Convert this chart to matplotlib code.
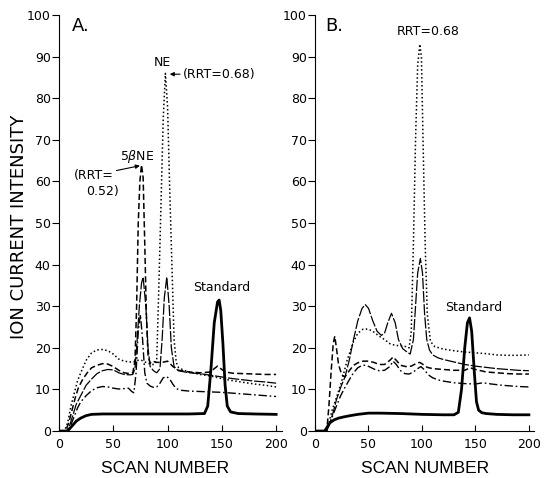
import numpy as np
import matplotlib
matplotlib.use("Agg")
import matplotlib.pyplot as plt

# ── Panel A traces (scan number, ion current) ────────────────────────────────
std_a_x = [0, 8, 10, 13, 16, 20, 25, 30, 40, 60, 80, 100, 120, 134, 137, 140,
           143, 146, 147.5, 149, 151, 153, 155, 158, 165, 180, 200]
std_a_y = [0, 0, 0.6, 1.5, 2.4, 3.1, 3.7, 4.0, 4.1, 4.1, 4.1, 4.1, 4.1, 4.2, 6,
           15, 26, 31, 31.5, 29, 21, 11, 6, 4.6, 4.2, 4.1, 4.0]

dot_a_x = [0, 5, 8, 11, 14, 17, 20, 25, 30, 35, 40, 45, 50, 55, 60, 65, 69, 72,
           76, 80, 85, 88, 90, 92, 94, 96, 98, 100, 102, 104, 106, 108, 110,
           115, 120, 130, 140, 150, 160, 170, 180, 190, 200]
dot_a_y = [0, 0, 2, 6, 9, 12, 14, 17, 18.8, 19.5, 19.6, 19.3, 18.5, 17.3, 16.8,
           16.6, 16.7, 17, 17, 16.5, 16, 16, 17, 35, 55, 75, 86, 78, 58, 40, 22,
           16.5, 15.3, 14.6, 14.2, 13.6, 13.2, 12.6, 12.1, 11.7, 11.3, 11, 10.6]

dash_a_x = [0, 6, 9, 12, 15, 18, 22, 26, 30, 35, 40, 45, 50, 55, 60, 65, 68, 70,
            71.5, 73, 74.5, 76, 77.5, 79, 80.5, 82, 84, 86, 90, 95, 100, 105,
            110, 120, 130, 140, 143, 146, 149, 153, 160, 170, 180, 190, 200]
dash_a_y = [0, 0, 2, 5, 8, 10.5, 12.5, 14, 15.2, 15.8, 16.2, 16.1, 15.5, 14.6,
            14, 13.8, 14, 17, 30, 50, 60, 64, 61, 45, 28, 18, 16.3, 16.8, 16.5,
            16.5, 16.8, 15.5, 14.6, 14.2, 14, 14.2, 15, 15.6, 15, 14.2, 13.9,
            13.8, 13.7, 13.6, 13.6]

long_a_x = [0, 7, 10, 13, 16, 20, 25, 30, 35, 40, 45, 50, 55, 60, 65, 68, 70,
            72, 74, 76, 77.5, 80, 82, 84, 87, 90, 93, 95, 97, 99.3, 101.5, 103.5,
            106, 110, 120, 130, 140, 150, 160, 170, 180, 190, 200]
long_a_y = [0, 0, 1.5, 4, 6.5, 8.5, 11, 12.5, 13.8, 14.5, 14.8, 14.7, 14, 13.6,
            13.5, 13.6, 15, 22, 30, 35.5, 37, 30, 20, 15.5, 14.5, 14, 15, 22, 32,
            37, 30, 20, 15.5, 14.5, 14, 13.8, 13.4, 13, 12.6, 12.3, 12, 11.8, 11.5]

dd_a_x = [0, 8, 11, 14, 17, 20, 25, 30, 35, 40, 45, 50, 55, 60, 64, 67, 69, 71,
          73, 75, 77, 79, 81, 84, 87, 90, 93, 96, 99, 102, 105, 108, 112, 120,
          130, 140, 150, 160, 170, 180, 190, 200]
dd_a_y = [0, 0, 1.5, 3.5, 5.5, 7, 8.5, 9.7, 10.4, 10.7, 10.6, 10.3, 10.1, 10.2,
          10.3, 9.5, 9.2, 14, 24, 28, 22, 14, 11.5, 10.8, 10.5, 10.6, 11.5, 12.8,
          13.1, 12.5, 11.2, 10.2, 9.8, 9.6, 9.5, 9.4, 9.3, 9.1, 8.9, 8.7, 8.5,
          8.3]

# ── Panel B traces ───────────────────────────────────────────────────────────
std_b_x = [0, 9, 11, 14, 18, 22, 27, 33, 40, 50, 60, 80, 100, 120, 130, 134,
           137, 140, 142.5, 144.5, 146.5, 149, 151, 153, 156, 160, 170, 185, 200]
std_b_y = [0, 0, 0.8, 2, 2.7, 3.1, 3.4, 3.7, 4.0, 4.3, 4.3, 4.2, 4.0, 3.9, 3.9,
           4.5, 10, 20, 26, 27.2, 24, 14, 7, 5, 4.4, 4.2, 4.0, 3.9, 3.9]

dot_b_x = [0, 10, 13, 16, 20, 25, 30, 36, 40, 45, 50, 55, 60, 65, 70, 75, 80,
           85, 88, 90, 92, 94, 96, 98, 99.5, 101, 103, 105, 108, 112, 120, 130,
           140, 150, 160, 170, 180, 190, 200]
dot_b_y = [0, 0, 2, 5, 8, 12, 17, 21.5, 23.5, 24.5, 24.5, 23.8, 22.8, 22, 21,
           20.6, 20.5, 20.3, 20, 24, 45, 70, 88, 93, 90, 70, 45, 28, 21.5, 20.3,
           19.7, 19.3, 19, 18.8, 18.6, 18.3, 18.2, 18.2, 18.3]

long_b_x = [0, 11, 14, 17, 20, 24, 28, 32, 36, 40, 44, 47, 50, 54, 58, 62, 65,
            68, 71.5, 75, 78, 82, 86, 89, 92, 94, 96, 98.5, 100.5, 102.5, 104.5,
            107, 110, 115, 120, 130, 140, 150, 160, 170, 180, 190, 200]
long_b_y = [0, 0, 2, 4.5, 7.5, 10.5, 13, 17, 22, 26.5, 29.5, 30.4, 29.5, 26.5,
            24, 23, 23.5, 26, 28.3, 26, 22, 19.8, 19, 18.5, 22, 30, 38, 41.5, 38,
            28, 22, 19.5, 18.3, 17.6, 17.2, 16.6, 16, 15.6, 15.3, 15, 14.8, 14.6,
            14.5]

dash_b_x = [0, 11, 13, 15, 17, 18.5, 20, 22, 25, 28, 32, 36, 40, 45, 50, 55, 60,
            65, 70, 73, 76, 80, 85, 90, 95, 98, 101, 105, 110, 120, 130, 140,
            145, 150, 160, 170, 180, 190, 200]
dash_b_y = [0, 0, 6, 14, 21, 22.8, 20, 16, 13.5, 13, 14.5, 15.8, 16.4, 16.8,
            16.8, 16.5, 16, 16, 17, 17.8, 17, 15.8, 15.5, 15.6, 16.3, 16.5, 16,
            15.3, 15, 14.8, 14.6, 14.6, 15.2, 14.8, 14.2, 14, 13.8, 13.7, 13.7]

dd_b_x = [0, 11, 14, 17, 20, 24, 28, 32, 36, 40, 44, 48, 52, 56, 60, 65, 70, 73,
          76, 80, 84, 88, 92, 96, 99, 102, 106, 110, 115, 120, 130, 140, 150,
          157, 165, 175, 190, 200]
dd_b_y = [0, 0, 2, 4, 6, 8.5, 10.5, 12.3, 14, 15.2, 15.8, 15.8, 15.3, 14.8, 14.5,
          14.6, 15.5, 16.8, 16, 14.5, 13.8, 13.7, 14.2, 15, 15.5, 14.8, 13.5,
          12.8, 12.3, 12, 11.6, 11.4, 11.3, 11.6, 11.3, 11, 10.7, 10.6]

# line styles: (linestyle, linewidth)
STY_STD  = ("-", 2.0)
STY_DOT  = ((0, (1, 1.6)), 1.1)
STY_DASH = ((0, (4, 2)), 1.1)
STY_LONG = ((0, (9, 1.5)), 0.9)
STY_DD   = ((0, (6, 2, 1.2, 2)), 1.0)


def draw_panel(ax, traces, letter, letter_x, xlabel_x):
    for xs, ys, (ls, lw) in traces:
        ax.plot(xs, ys, color="black", linestyle=ls, linewidth=lw)
    ax.set_xlim(0, 205)
    ax.set_ylim(0, 100)
    ax.set_xticks([0, 50, 100, 150, 200])
    ax.set_yticks(range(0, 101, 10))
    ax.spines["top"].set_visible(False)
    ax.spines["right"].set_visible(False)
    ax.tick_params(axis="y", direction="out", length=5, labelsize=9, pad=1)
    ax.tick_params(axis="x", direction="in", length=4, labelsize=9, pad=5)
    ax.set_xlabel("SCAN NUMBER", fontsize=12.5, family="Liberation Sans")
    ax.xaxis.set_label_coords(xlabel_x, -0.072)
    ax.text(letter_x, 99.5, letter, fontsize=13, va="top", ha="left")


fig = plt.figure(figsize=(5.55, 4.78), dpi=100)
ax_a = fig.add_axes([0.1063, 0.0983, 0.401, 0.870])
ax_b = fig.add_axes([0.5676, 0.0983, 0.395, 0.870])

draw_panel(ax_a, [(std_a_x, std_a_y, STY_STD), (dot_a_x, dot_a_y, STY_DOT),
                  (dash_a_x, dash_a_y, STY_DASH), (long_a_x, long_a_y, STY_LONG),
                  (dd_a_x, dd_a_y, STY_DD)], "A.", 11.5, 0.475)
draw_panel(ax_b, [(std_b_x, std_b_y, STY_STD), (dot_b_x, dot_b_y, STY_DOT),
                  (dash_b_x, dash_b_y, STY_DASH), (long_b_x, long_b_y, STY_LONG),
                  (dd_b_x, dd_b_y, STY_DD)], "B.", 9.5, 0.5)

ax_a.set_ylabel("ION CURRENT INTENSITY", fontsize=13)
ax_a.yaxis.set_label_coords(-0.14, 0.49)

# annotations, panel A
arrow = dict(arrowstyle="-|>", color="black", lw=0.8, mutation_scale=6,
             shrinkA=0, shrinkB=0)
ax_a.text(95, 88.5, "NE", fontsize=9, ha="center", va="center")
ax_a.annotate("(RRT=0.68)", xy=(102, 85.8), xytext=(114, 85.8), fontsize=9,
              ha="left", va="center", arrowprops=arrow)
ax_a.text(72, 66, "5$\\beta$NE", fontsize=9, ha="center", va="center")
ax_a.annotate("(RRT=", xy=(74.5, 63.8), xytext=(32, 61.5), fontsize=9,
              ha="center", va="center", arrowprops=arrow)
ax_a.text(40, 57.6, "0.52)", fontsize=9, ha="center", va="center")
ax_a.text(150, 34.4, "Standard", fontsize=9, ha="center", va="center")

# annotations, panel B
ax_b.text(106, 96, "RRT=0.68", fontsize=9, ha="center", va="center")
ax_b.text(148.6, 29.6, "Standard", fontsize=9, ha="center", va="center")

fig.savefig("out.png", dpi=100)
